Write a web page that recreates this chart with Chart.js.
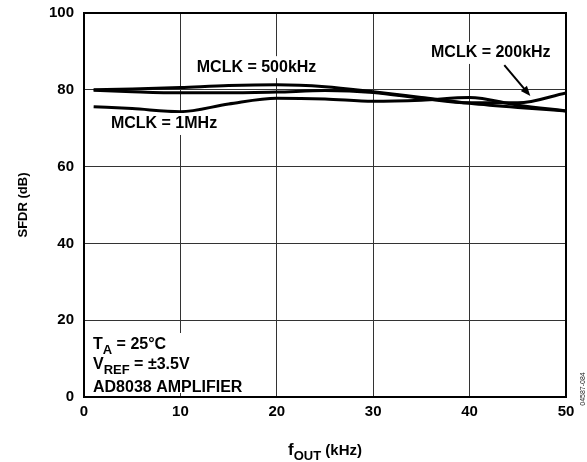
<!DOCTYPE html>
<html>
<head>
<meta charset="utf-8">
<script src="https://cdn.jsdelivr.net/npm/chart.js@4.4.1/dist/chart.umd.min.js"></script>
<style>
  html, body { margin: 0; padding: 0; background: #fff; }
</style>
</head>
<body>
<canvas id="sfdrChart" width="587" height="462"></canvas>
<script>
// f_OUT in kHz, SFDR in dB
var freqKHz = [1, 5, 10, 15, 20, 25, 30, 35, 40, 45, 50];
var sfdr500k = [80.0, 80.2, 80.6, 81.1, 81.3, 80.8, 79.5, 78.0, 76.5, 75.4, 74.5];
var sfdr200k = [79.9, 79.5, 79.2, 79.2, 79.4, 79.8, 79.3, 77.8, 76.6, 76.6, 79.2];
var sfdr1M   = [75.6, 75.1, 74.3, 76.3, 77.8, 77.6, 77.0, 77.3, 78.0, 76.0, 74.5];
var xTicks = [0, 10, 20, 30, 40, 50];
var yTicks = [0, 20, 40, 60, 80, 100];

var FONT = '"Liberation Sans", Arial, sans-serif';

function toPoints(ys) {
  return freqKHz.map(function (f, i) { return { x: f, y: ys[i] }; });
}

function lineSet(label, ys) {
  return {
    label: label,
    data: toPoints(ys),
    borderColor: '#000',
    borderWidth: 3,
    pointRadius: 0,
    tension: 0.4,
    cubicInterpolationMode: 'monotone',
    fill: false
  };
}

// draws runs of text, some of them subscript; align = 'left' or 'center'
function drawRuns(ctx, runs, x, y, align) {
  var total = 0;
  runs.forEach(function (r) {
    ctx.font = 'bold ' + r.size + 'px ' + FONT;
    r.w = ctx.measureText(r.t).width;
    total += r.w;
  });
  var cx = align === 'center' ? x - total / 2 : x;
  runs.forEach(function (r) {
    ctx.font = 'bold ' + r.size + 'px ' + FONT;
    ctx.fillText(r.t, cx, y + (r.sub ? 5 : 0));
    cx += r.w;
  });
}

function whiteLabel(ctx, text, px, py) {
  ctx.font = 'bold 16px ' + FONT;
  var w = ctx.measureText(text).width;
  ctx.fillStyle = '#fff';
  ctx.fillRect(px - w / 2 - 3, py - 11, w + 6, 22);
  ctx.fillStyle = '#000';
  ctx.textAlign = 'center';
  ctx.textBaseline = 'middle';
  ctx.fillText(text, px, py);
}

var decorations = {
  id: 'decorations',
  afterDatasetsDraw: function (chart) {
    var ctx = chart.ctx, a = chart.chartArea;
    var xs = chart.scales.x, ys = chart.scales.y;
    ctx.save();

    // curve labels
    whiteLabel(ctx, 'MCLK = 500kHz', xs.getPixelForValue(17.9), ys.getPixelForValue(85.9));
    whiteLabel(ctx, 'MCLK = 1MHz', xs.getPixelForValue(8.3), ys.getPixelForValue(71.1));
    whiteLabel(ctx, 'MCLK = 200kHz', xs.getPixelForValue(42.2), ys.getPixelForValue(89.6));

    // arrow to the 200kHz curve
    var x0 = xs.getPixelForValue(43.6), y0 = ys.getPixelForValue(86.4);
    var x1 = xs.getPixelForValue(46.3), y1 = ys.getPixelForValue(78.4);
    var ang = Math.atan2(y1 - y0, x1 - x0);
    ctx.strokeStyle = '#000';
    ctx.lineWidth = 2;
    ctx.beginPath();
    ctx.moveTo(x0, y0);
    ctx.lineTo(x1 - 6 * Math.cos(ang), y1 - 6 * Math.sin(ang));
    ctx.stroke();
    ctx.beginPath();
    ctx.moveTo(x1, y1);
    ctx.lineTo(x1 - 10 * Math.cos(ang) + 4 * Math.sin(ang), y1 - 10 * Math.sin(ang) - 4 * Math.cos(ang));
    ctx.lineTo(x1 - 10 * Math.cos(ang) - 4 * Math.sin(ang), y1 - 10 * Math.sin(ang) + 4 * Math.cos(ang));
    ctx.closePath();
    ctx.fillStyle = '#000';
    ctx.fill();

    // conditions box, lower left
    ctx.fillStyle = '#fff';
    ctx.fillRect(a.left + 1, a.bottom - 64, 172, 60);
    ctx.fillStyle = '#000';
    ctx.textAlign = 'left';
    ctx.textBaseline = 'alphabetic';
    drawRuns(ctx, [{ t: 'T', size: 16 }, { t: 'A', size: 13, sub: true }, { t: ' = 25\u00B0C', size: 16 }], a.left + 9, a.bottom - 48, 'left');
    drawRuns(ctx, [{ t: 'V', size: 16 }, { t: 'REF', size: 13, sub: true }, { t: ' = \u00B13.5V', size: 16 }], a.left + 9, a.bottom - 28, 'left');
    drawRuns(ctx, [{ t: 'AD8038 AMPLIFIER', size: 16 }], a.left + 9, a.bottom - 5, 'left');

    // frame
    ctx.strokeStyle = '#000';
    ctx.lineWidth = 2;
    ctx.strokeRect(a.left, a.top, a.right - a.left, a.bottom - a.top);
    ctx.restore();
  },
  afterDraw: function (chart) {
    var ctx = chart.ctx, a = chart.chartArea;
    ctx.save();
    ctx.fillStyle = '#000';
    ctx.textBaseline = 'alphabetic';
    // x title with subscript
    drawRuns(ctx, [{ t: 'f', size: 17 }, { t: 'OUT', size: 13, sub: true }, { t: ' (kHz)', size: 15 }], (a.left + a.right) / 2, 455, 'center');

    // y title
    ctx.translate(27, (a.top + a.bottom) / 2);
    ctx.rotate(-Math.PI / 2);
    ctx.textAlign = 'center';
    ctx.font = 'bold 13px ' + FONT;
    ctx.fillText('SFDR (dB)', 0, 0);
    ctx.restore();

    // figure number
    ctx.save();
    ctx.translate(585, 389);
    ctx.rotate(-Math.PI / 2);
    ctx.textAlign = 'center';
    ctx.fillStyle = '#222';
    ctx.font = '7px ' + FONT;
    ctx.fillText('04587-084', 0, 0);
    ctx.restore();
  }
};

var ctx = document.getElementById('sfdrChart').getContext('2d');
var myChart = new Chart(ctx, {
  type: 'line',
  data: {
    datasets: [
      lineSet('MCLK = 500kHz', sfdr500k),
      lineSet('MCLK = 200kHz', sfdr200k),
      lineSet('MCLK = 1MHz', sfdr1M)
    ]
  },
  options: {
    responsive: false,
    animation: false,
    layout: { padding: { top: 13, right: 21, left: 0, bottom: 0 } },
    plugins: {
      legend: { display: false },
      tooltip: { enabled: false }
    },
    scales: {
      x: {
        type: 'linear',
        min: 0,
        max: 50,
        afterBuildTicks: function (s) { s.ticks = xTicks.map(function (v) { return { value: v }; }); },
        afterFit: function (s) { s.height = 65; s.paddingLeft = 0; s.paddingRight = 0; },
        grid: { color: '#333', lineWidth: 1, drawTicks: false },
        border: { display: false },
        ticks: {
          padding: 6,
          color: '#000',
          font: { family: FONT, size: 15, weight: 'bold' }
        }
      },
      y: {
        min: 0,
        max: 100,
        afterBuildTicks: function (s) { s.ticks = yTicks.map(function (v) { return { value: v }; }); },
        afterFit: function (s) { s.width = 84; s.paddingTop = 0; s.paddingBottom = 0; },
        grid: { color: '#333', lineWidth: 1, drawTicks: false },
        border: { display: false },
        ticks: {
          padding: 10,
          color: '#000',
          font: { family: FONT, size: 15, weight: 'bold' }
        }
      }
    }
  },
  plugins: [decorations]
});
</script>
</body>
</html>
